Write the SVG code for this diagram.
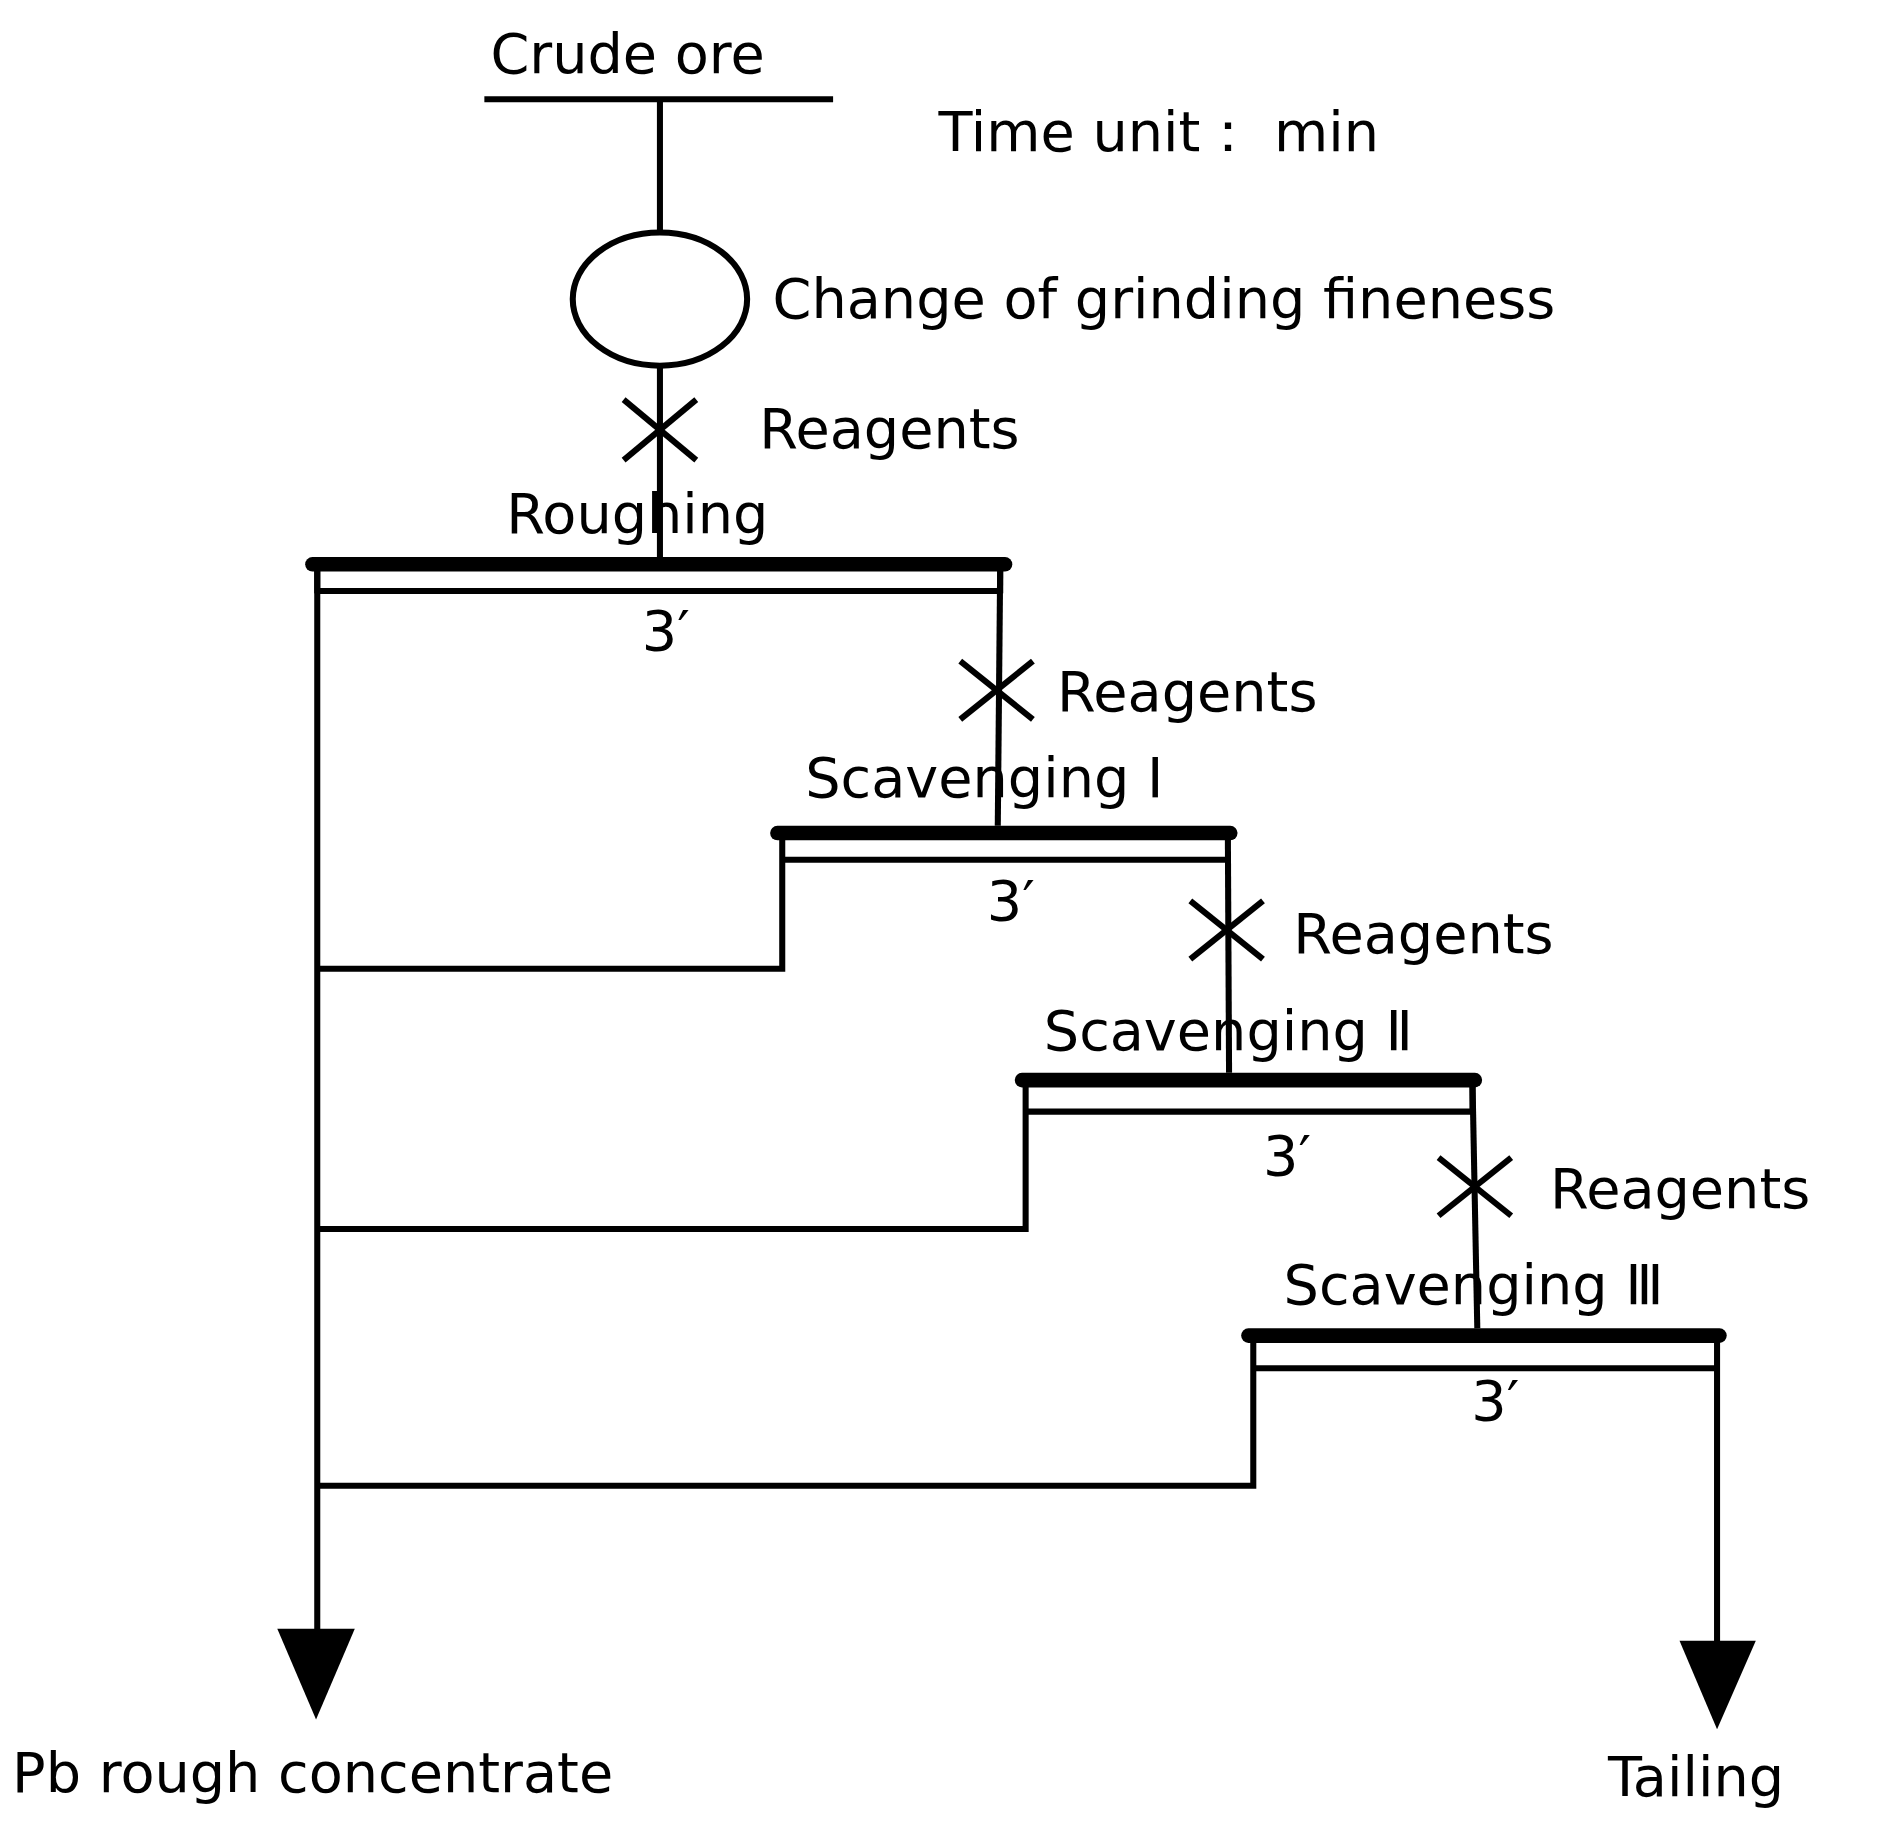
<svg xmlns="http://www.w3.org/2000/svg" width="1889" height="1823" viewBox="0 0 1889 1823">
<style>
text{font-family:"DejaVu Sans","Liberation Sans",sans-serif;font-size:46px;fill:#000}
.l{stroke:#000;stroke-width:5;fill:none}
.b{stroke:#000;stroke-width:12;stroke-linecap:round}
.x{stroke:#000;stroke-width:5}
</style>
<rect width="1889" height="1823" fill="#fff"/>
<g transform="scale(1.2109)">
<g id="connectors">
<line class="l" x1="400" y1="82" x2="688" y2="82"/>
<line class="l" x1="545" y1="82" x2="545" y2="192"/>
<line class="l" x1="545" y1="302" x2="545" y2="460"/>
<line class="l" x1="826" y1="466" x2="824" y2="682"/>
<line class="l" x1="1014" y1="688" x2="1015" y2="886"/>
<line class="l" x1="1216" y1="892" x2="1220" y2="1097"/>
<line class="l" x1="1418" y1="1103" x2="1418" y2="1360"/>
<line class="l" x1="262" y1="466" x2="262" y2="1350"/>
<polyline class="l" points="262,800 646,800 646,688"/>
<polyline class="l" points="262,1015 847,1015 847,892"/>
<polyline class="l" points="262,1227 1035,1227 1035,1103"/>
<polygon points="229,1345 293,1345 261,1420" fill="#000"/>
<polygon points="1387,1355 1450,1355 1418,1428" fill="#000"/>
</g>
<g id="feed"><text x="405" y="60">Crude ore</text></g>
<text x="775" y="125">Time unit： min</text>
<g id="grinding"><ellipse cx="545" cy="247" rx="72" ry="55" class="l"/><text x="638" y="263">Change of grinding fineness</text></g>
<g id="reag0"><line class="x" x1="515" y1="330" x2="575" y2="380"/><line class="x" x1="575" y1="330" x2="515" y2="380"/><text x="627" y="370">Reagents</text></g>
<g id="roughing"><text x="418" y="440">Roughing</text>
<line class="b" x1="258" y1="466" x2="830" y2="466"/><line class="l" x1="262" y1="488" x2="826" y2="488"/><line class="l" x1="262" y1="466" x2="262" y2="490"/><line class="l" x1="826" y1="466" x2="826" y2="490"/>
<text x="530" y="537">3′</text></g>
<g id="reag1"><line class="x" x1="793" y1="546" x2="853" y2="594"/><line class="x" x1="853" y1="546" x2="793" y2="594"/><text x="873" y="587">Reagents</text></g>
<g id="scav1"><text x="665" y="658">Scavenging  Ⅰ</text>
<line class="b" x1="642" y1="688" x2="1016" y2="688"/><line class="l" x1="646" y1="710" x2="1014" y2="710"/>
<text x="815" y="760">3′</text></g>
<g id="reag2"><line class="x" x1="983" y1="744" x2="1043" y2="792"/><line class="x" x1="1043" y1="744" x2="983" y2="792"/><text x="1068" y="787">Reagents</text></g>
<g id="scav2"><text x="862" y="867">Scavenging Ⅱ</text>
<line class="b" x1="844" y1="892" x2="1218" y2="892"/><line class="l" x1="847" y1="918" x2="1216" y2="918"/><line class="l" x1="1216" y1="892" x2="1216" y2="918"/>
<text x="1043" y="970">3′</text></g>
<g id="reag3"><line class="x" x1="1188" y1="956" x2="1248" y2="1004"/><line class="x" x1="1248" y1="956" x2="1188" y2="1004"/><text x="1280" y="998">Reagents</text></g>
<g id="scav3"><text x="1060" y="1077">Scavenging  Ⅲ</text>
<line class="b" x1="1031" y1="1103" x2="1420" y2="1103"/><line class="l" x1="1035" y1="1130" x2="1418" y2="1130"/>
<text x="1215" y="1173">3′</text></g>
<g id="conc"><text x="10" y="1480">Pb rough concentrate</text></g>
<g id="tail"><text x="1328" y="1483">Tailing</text></g>
</g>
</svg>
